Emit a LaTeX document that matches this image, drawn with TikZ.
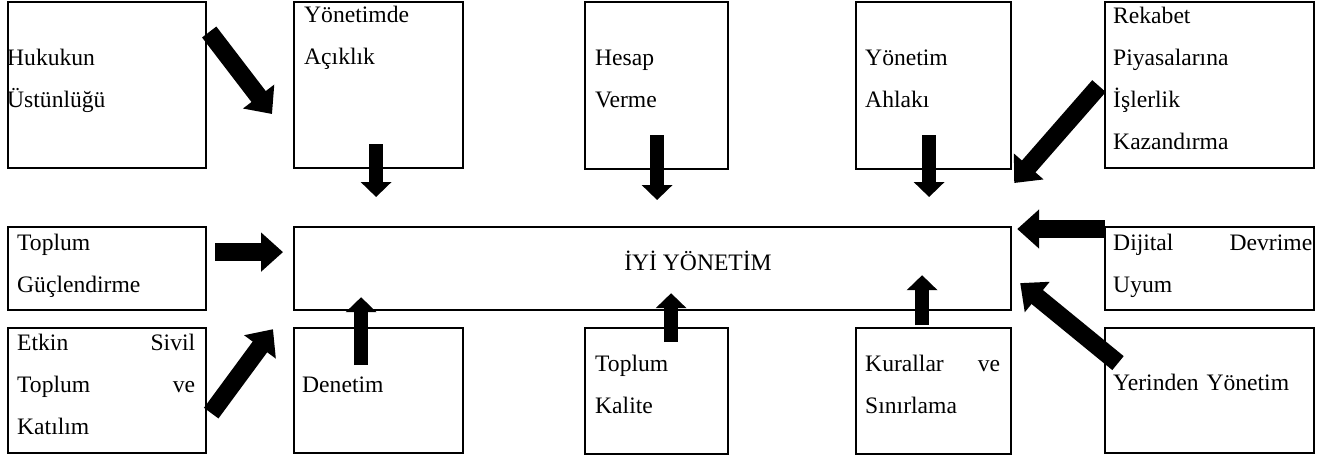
\documentclass[tikz,border=0pt]{standalone}
\usepackage{fontspec}
\setmainfont{Liberation Serif}
\usetikzlibrary{arrows.meta,calc}

\begin{document}
\begin{tikzpicture}[x=1pt,y=-1pt,
    box/.style={draw,line width=2.2pt,anchor=north west,inner sep=0pt},
    txt/.style={anchor=base west,inner sep=0pt,align=left,font=\fontsize{23.6}{42}\selectfont},
    blk/.style={line width=14pt,-{Triangle[width=30pt,length=15pt]}},
    bigblk/.style={line width=18pt,-{Triangle[width=38pt,length=22pt]}}]
\useasboundingbox (0,0) rectangle (1330,459);
% upper row
\node[box,minimum width=198pt,minimum height=166pt] (hk) at (7,1) {};
\node[box,minimum width=169pt,minimum height=166pt] (acik) at (293,1) {};
\node[box,minimum width=143pt,minimum height=167pt] (hesap) at (584,1) {};
\node[box,minimum width=155pt,minimum height=167pt] (ahlak) at (855,1) {};
\node[box,minimum width=209pt,minimum height=166pt] (rek) at (1104,1) {};
% middle row
\node[box,minimum width=198pt,minimum height=83pt] (guc) at (7,226) {};
\node[box,minimum width=717pt,minimum height=83pt] (iyi) at (293,226) {};
\node[box,minimum width=209pt,minimum height=83pt] (dijital) at (1104,226) {};
% lower row
\node[box,minimum width=198pt,minimum height=125pt] (sivil) at (7,327) {};
\node[box,minimum width=169pt,minimum height=125pt] (denet) at (293,327) {};
\node[box,minimum width=143pt,minimum height=126pt] (kalite) at (584,327) {};
\node[box,minimum width=155pt,minimum height=126pt] (kural) at (855,327) {};
\node[box,minimum width=209pt,minimum height=125pt] (yerinden) at (1104,327) {};

% texts
\node[txt,text width=190pt] (hkT) at (7,65) {Hukukun\\Üstünlüğü};
\node[txt,text width=150pt] (acikT) at (304,22) {Yönetimde\\Açıklık};
\node[txt,text width=130pt] (hesapT) at (595,65) {Hesap\\Verme};
\node[txt,text width=140pt] (ahlakT) at (865,65) {Yönetim\\Ahlakı};
\node[txt,text width=195pt] (rekT) at (1113,23) {Rekabet\\Piyasalarına\\İşlerlik\\Kazandırma};
\node[txt,text width=185pt] (gucT) at (17,250) {Toplum\\Güçlendirme};
\node[txt,anchor=base,font=\fontsize{23.6}{42}\selectfont] (iyiT) at (698,270) {İYİ YÖNETİM};
\node[txt,text width=199pt] (dijitalT) at (1113,250) {Dijital\hfill Devrime\\Uyum};
\node[txt,text width=178pt] (sivilT) at (17,350) {Etkin\hfill Sivil\\Toplum\hfill ve\\Katılım};
\node[txt,text width=150pt] (denetT) at (302,392) {Denetim};
\node[txt,text width=130pt] (kaliteT) at (595,371) {Toplum\\Kalite};
\node[txt,text width=135pt] (kuralT) at (865,371) {Kurallar\hfill ve\\Sınırlama};
\node[txt,text width=199pt] (yerindenT) at (1113,390) {Yerinden Yönetim};

% arrows
\draw[bigblk] ($(hk.north east)+(2,31)$) -- ($(acik.north west)+(-21,113)$);
\draw[blk] ($(acik.south)+(-2.5,-25)$) -- ($(acik.south |- iyi.north)+(-2.5,-29)$);
\draw[blk] ($(hesap.south)+(0.5,-35)$) -- ($(hesap.south |- iyi.north)+(0.5,-26)$);
\draw[blk] ($(ahlak.south)+(-4.5,-35)$) -- ($(ahlak.south |- iyi.north)+(-4.5,-29)$);
\draw[bigblk] ($(rek.west)+(-5,1)$) -- ($(iyi.north east)+(2,-43)$);
\draw[bigblk] ($(guc.east)+(8,-16.5)$) -- ($(iyi.west)+(-10,-16.5)$);
\draw[bigblk] ($(dijital.north west)+(1,3)$) -- ($(iyi.north east)+(5,3)$);
\draw[bigblk] ($(sivil.east)+(4,22.5)$) -- ($(iyi.south west)+(-20,18)$);
\draw[blk] ($(denet.north)+(-17.5,38)$) -- ($(denet.north |- iyi.south)+(-17.5,-14)$);
\draw[blk] ($(kalite.north)+(14.5,15)$) -- ($(kalite.north |- iyi.south)+(14.5,-18)$);
\draw[blk] ($(kural.north)+(-11.5,-2)$) -- ($(kural.north |- iyi.south)+(-11.5,-36)$);
\draw[bigblk] ($(yerinden.west)+(14,-27.5)$) -- ($(iyi.east)+(8,14.5)$);
\end{tikzpicture}
\end{document}
